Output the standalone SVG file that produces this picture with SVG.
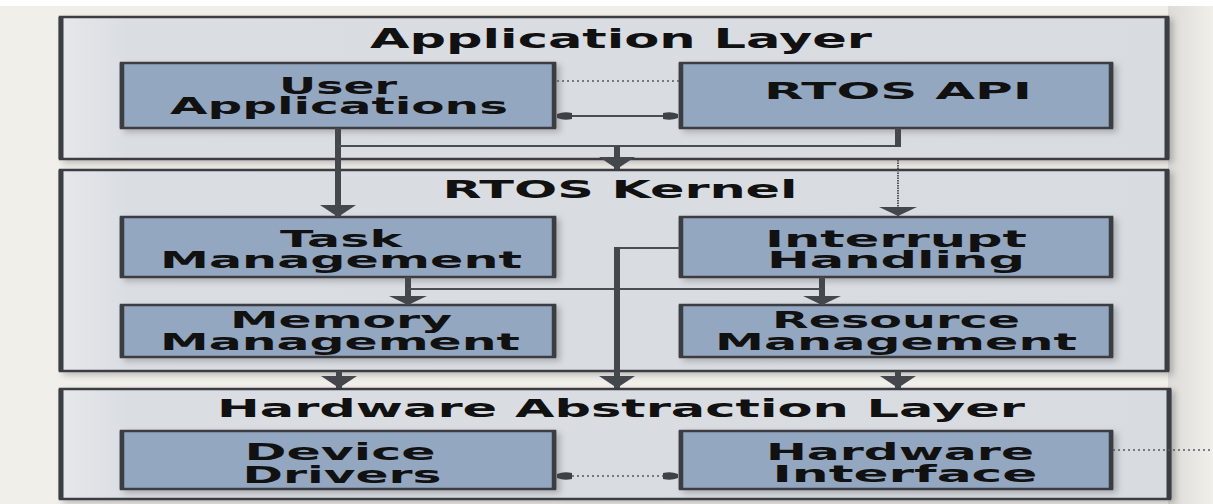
<svg xmlns="http://www.w3.org/2000/svg" width="1213" height="504" viewBox="0 0 1213 504">
<defs>
<style>
.layer{fill:url(#layerGrad);stroke:#3b3e43;stroke-width:2.5}
.layerEdge{stroke:#3b3e43;stroke-width:5}
.node{fill:#94a7c0;stroke:#3a3d42;stroke-width:2.5}
.nodeEdge{stroke:#3a3d42;stroke-width:4.5}
.t{font-family:"DejaVu Sans","Verdana",sans-serif;font-weight:bold;fill:#111;text-anchor:middle}
.title{font-size:26px}
.sub{font-size:24px}
.lbl{font-size:23px}
.thick{stroke:#44484d;stroke-width:6;fill:none}
.thin{stroke:#4a4e53;stroke-width:2.2;fill:none}
.dot{stroke:#55595e;stroke-width:1.6;stroke-dasharray:2 3;fill:none}
.dotv{stroke:#55595e;stroke-width:2;stroke-dasharray:1.5 1;fill:none}
</style>
<linearGradient id="layerGrad" x1="0" y1="0" x2="1" y2="0">
<stop offset="0" stop-color="#e6e8eb"/>
<stop offset="0.06" stop-color="#dadde2"/>
<stop offset="1" stop-color="#d8dce1"/>
</linearGradient>
<linearGradient id="rightShade" x1="0" y1="0" x2="1" y2="0">
<stop offset="0" stop-color="#dcdbd8"/>
<stop offset="1" stop-color="#f1efea"/>
</linearGradient>
<filter id="sh" x="-5%" y="-10%" width="112%" height="130%">
<feDropShadow dx="4" dy="3" stdDeviation="3" flood-color="#000" flood-opacity="0.22"/>
</filter>
<marker id="big" markerUnits="userSpaceOnUse" markerWidth="12" markerHeight="36" refX="12" refY="18" orient="auto">
<path d="M0,0 L12,18 L0,36 Z" fill="#44484d"/>
</marker>
<marker id="mid" markerUnits="userSpaceOnUse" markerWidth="9" markerHeight="38" refX="9" refY="19" orient="auto">
<path d="M0,0 L9,19 L0,38 Z" fill="#44484d"/>
</marker>
<marker id="small" markerUnits="userSpaceOnUse" markerWidth="16" markerHeight="10" refX="15" refY="5" orient="auto-start-reverse">
<path d="M0,2 Q8,0 15,3 L15,7 Q8,10 0,8 Z" fill="#3e4247"/>
</marker>
</defs>

<rect x="0" y="0" width="1213" height="504" fill="#f1efea"/>
<rect x="0" y="0" width="1213" height="6" fill="#ffffff"/>
<rect x="1168" y="6" width="45" height="498" fill="url(#rightShade)"/>

<g id="application-layer">
<rect class="layer" x="60" y="17" width="1108" height="142" filter="url(#sh)"/>
<line class="layerEdge" x1="61" y1="17" x2="61" y2="159"/>
<line class="layerEdge" x1="1167" y1="17" x2="1167" y2="159"/>
<text class="t title" x="621" y="48" textLength="502" lengthAdjust="spacingAndGlyphs">Application Layer</text>
</g>

<g id="rtos-kernel">
<rect class="layer" x="60" y="170" width="1108" height="201" filter="url(#sh)"/>
<line class="layerEdge" x1="61" y1="170" x2="61" y2="371"/>
<line class="layerEdge" x1="1167" y1="170" x2="1167" y2="371"/>
<text class="t sub" x="620" y="198" textLength="355" lengthAdjust="spacingAndGlyphs">RTOS Kernel</text>
</g>

<g id="hardware-abstraction-layer">
<rect class="layer" x="60" y="389" width="1110" height="110" filter="url(#sh)"/>
<line class="layerEdge" x1="61" y1="389" x2="61" y2="499"/>
<line class="layerEdge" x1="1169" y1="389" x2="1169" y2="499"/>
<text class="t sub" x="621" y="417" textLength="808" lengthAdjust="spacingAndGlyphs">Hardware Abstraction Layer</text>
</g>

<g id="user-applications">
<rect class="node" x="121" y="63" width="434" height="65" filter="url(#sh)"/>
<line class="nodeEdge" x1="122" y1="63" x2="122" y2="128"/>
<line class="nodeEdge" x1="554" y1="63" x2="554" y2="128"/>
<text class="t lbl" x="338" y="94" textLength="118" lengthAdjust="spacingAndGlyphs">User</text>
<text class="t lbl" x="339" y="114" textLength="338" lengthAdjust="spacingAndGlyphs">Applications</text>
</g>

<g id="rtos-api">
<rect class="node" x="680" y="63" width="432" height="65" filter="url(#sh)"/>
<line class="nodeEdge" x1="681" y1="63" x2="681" y2="128"/>
<line class="nodeEdge" x1="1111" y1="63" x2="1111" y2="128"/>
<text class="t lbl" x="898" y="99" textLength="268" lengthAdjust="spacingAndGlyphs">RTOS API</text>
</g>

<g id="task-management">
<rect class="node" x="121" y="217" width="434" height="60" filter="url(#sh)"/>
<line class="nodeEdge" x1="122" y1="217" x2="122" y2="277"/>
<line class="nodeEdge" x1="554" y1="217" x2="554" y2="277"/>
<text class="t lbl" x="341" y="247" textLength="122" lengthAdjust="spacingAndGlyphs">Task</text>
<text class="t lbl" x="341" y="268" textLength="362" lengthAdjust="spacingAndGlyphs">Management</text>
</g>

<g id="interrupt-handling">
<rect class="node" x="680" y="217" width="432" height="60" filter="url(#sh)"/>
<line class="nodeEdge" x1="681" y1="217" x2="681" y2="277"/>
<line class="nodeEdge" x1="1111" y1="217" x2="1111" y2="277"/>
<text class="t lbl" x="896" y="247" textLength="262" lengthAdjust="spacingAndGlyphs">Interrupt</text>
<text class="t lbl" x="896" y="268" textLength="258" lengthAdjust="spacingAndGlyphs">Handling</text>
</g>

<g id="memory-management">
<rect class="node" x="121" y="305" width="434" height="52" filter="url(#sh)"/>
<line class="nodeEdge" x1="122" y1="305" x2="122" y2="357"/>
<line class="nodeEdge" x1="554" y1="305" x2="554" y2="357"/>
<text class="t lbl" x="341" y="328" textLength="222" lengthAdjust="spacingAndGlyphs">Memory</text>
<text class="t lbl" x="340" y="350" textLength="360" lengthAdjust="spacingAndGlyphs">Management</text>
</g>

<g id="resource-management">
<rect class="node" x="680" y="305" width="432" height="52" filter="url(#sh)"/>
<line class="nodeEdge" x1="681" y1="305" x2="681" y2="357"/>
<line class="nodeEdge" x1="1111" y1="305" x2="1111" y2="357"/>
<text class="t lbl" x="896" y="328" textLength="248" lengthAdjust="spacingAndGlyphs">Resource</text>
<text class="t lbl" x="896" y="350" textLength="362" lengthAdjust="spacingAndGlyphs">Management</text>
</g>

<g id="device-drivers">
<rect class="node" x="121" y="431" width="434" height="58" filter="url(#sh)"/>
<line class="nodeEdge" x1="122" y1="431" x2="122" y2="489"/>
<line class="nodeEdge" x1="554" y1="431" x2="554" y2="489"/>
<text class="t lbl" x="340" y="460" textLength="191" lengthAdjust="spacingAndGlyphs">Device</text>
<text class="t lbl" x="342" y="483" textLength="199" lengthAdjust="spacingAndGlyphs">Drivers</text>
</g>

<g id="hardware-interface">
<rect class="node" x="680" y="431" width="432" height="58" filter="url(#sh)"/>
<line class="nodeEdge" x1="681" y1="431" x2="681" y2="489"/>
<line class="nodeEdge" x1="1111" y1="431" x2="1111" y2="489"/>
<text class="t lbl" x="900" y="460" textLength="268" lengthAdjust="spacingAndGlyphs">Hardware</text>
<text class="t lbl" x="905" y="482" textLength="265" lengthAdjust="spacingAndGlyphs">Interface</text>
</g>

<g id="connectors">
<line class="dot" x1="557" y1="81" x2="679" y2="81"/>
<line class="thin" x1="557" y1="116" x2="678" y2="116" marker-start="url(#small)" marker-end="url(#small)"/>
<line class="thick" x1="338" y1="128" x2="338" y2="217" marker-end="url(#big)"/>
<line class="thin" x1="338" y1="146" x2="901" y2="146"/>
<line class="thick" x1="898" y1="128" x2="898" y2="147"/>
<line class="thick" x1="617" y1="146" x2="617" y2="169" marker-end="url(#big)"/>
<line class="dotv" x1="898" y1="160" x2="898" y2="216" marker-end="url(#mid)"/>
<line class="thick" x1="408" y1="277" x2="408" y2="305" marker-end="url(#mid)"/>
<line class="thick" x1="822" y1="277" x2="822" y2="305" marker-end="url(#mid)"/>
<line class="thin" x1="408" y1="289" x2="822" y2="289"/>
<polyline class="thin" points="680,248 617,248"/>
<line class="thick" x1="617" y1="247" x2="617" y2="388" marker-end="url(#big)"/>
<line class="thick" x1="339" y1="371" x2="339" y2="388" marker-end="url(#big)"/>
<line class="thick" x1="898" y1="371" x2="898" y2="388" marker-end="url(#big)"/>
<line class="dot" x1="557" y1="476" x2="678" y2="476" marker-start="url(#small)" marker-end="url(#small)"/>
<line class="dot" x1="1113" y1="450" x2="1213" y2="450"/>
</g>
</svg>
